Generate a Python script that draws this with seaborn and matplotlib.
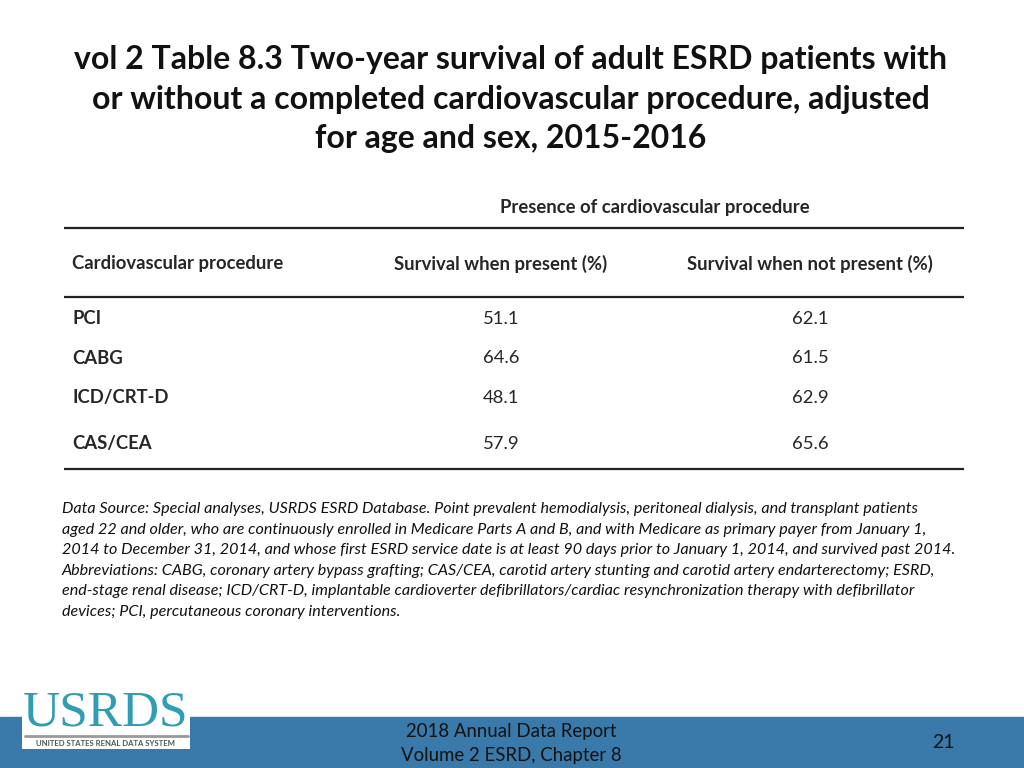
import numpy as np
import pandas as pd
import matplotlib.pyplot as plt
import seaborn as sns
from matplotlib.patches import Rectangle

# table data
procedures = ['PCI', 'CABG', 'ICD/CRT-D', 'CAS/CEA']
surv_present = [51.1, 64.6, 48.1, 57.9]
surv_not_present = [62.1, 61.5, 62.9, 65.6]
col_headers = ['Cardiovascular procedure', 'Survival when present (%)', 'Survival when not present (%)']
group_header = 'Presence of cardiovascular procedure'

title = ('vol 2 Table 8.3 Two-year survival of adult ESRD patients with\n'
         'or without a completed cardiovascular procedure, adjusted\n'
         'for age and sex, 2015-2016')
note = ('Data Source: Special analyses, USRDS ESRD Database. Point prevalent hemodialysis, peritoneal dialysis, and transplant patients\n'
        'aged 22 and older, who are continuously enrolled in Medicare Parts A and B, and with Medicare as primary payer from January 1,\n'
        '2014 to December 31, 2014, and whose first ESRD service date is at least 90 days prior to January 1, 2014, and survived past 2014.\n'
        'Abbreviations: CABG, coronary artery bypass grafting; CAS/CEA, carotid artery stunting and carotid artery endarterectomy; ESRD,\n'
        'end-stage renal disease; ICD/CRT-D, implantable cardioverter defibrillators/cardiac resynchronization therapy with defibrillator\n'
        'devices; PCI, percutaneous coronary interventions.')

df = pd.DataFrame({'procedure': procedures, 'present': surv_present, 'not_present': surv_not_present})

sns.set_style('white')
plt.rcParams['font.family'] = ['Lato', 'DejaVu Sans']

fig = plt.figure(figsize=(10.24, 7.68), dpi=100)
ax = fig.add_axes([0, 0, 1, 1])
ax.set_xlim(0, 1024)
ax.set_ylim(768, 0)
ax.axis('off')

# title
ax.text(511, 99, title, ha='center', va='center', fontsize=23, fontweight='bold',
        linespacing=1.42, color='#111111')

# table layout
row_y = [319, 358, 398, 444]
col_x = [72, 501, 810]
line_color = '#222222'
fs = 13.3

ax.text(655, 207, group_header, ha='center', va='center', fontsize=fs, fontweight='bold')
for y in [228, 297, 469]:
    ax.plot([64, 964], [y, y], color=line_color, lw=1.6, solid_capstyle='butt')

ax.text(col_x[0], 264, col_headers[0], ha='left', va='center', fontsize=fs, fontweight='bold')
ax.text(col_x[1], 264, col_headers[1], ha='center', va='center', fontsize=fs, fontweight='bold')
ax.text(col_x[2], 264, col_headers[2], ha='center', va='center', fontsize=fs, fontweight='bold')

for y, row in zip(row_y, df.itertuples()):
    ax.text(col_x[0], y, row.procedure, ha='left', va='center', fontsize=fs, fontweight='bold')
    ax.text(col_x[1], y, f'{row.present:.1f}', ha='center', va='center', fontsize=fs)
    ax.text(col_x[2], y, f'{row.not_present:.1f}', ha='center', va='center', fontsize=fs)

# footnote
ax.text(62, 502, note, ha='left', va='top', fontsize=11.6, style='italic',
        linespacing=1.6, color='#111111')

# footer band
ax.add_patch(Rectangle((0, 717), 1024, 51, color='#3a7aab', zorder=1))
ax.text(511, 731, '2018 Annual Data Report', ha='center', va='center', fontsize=13.4,
        color='#111111', zorder=3)
ax.text(511, 756, 'Volume 2 ESRD, Chapter 8', ha='center', va='center', fontsize=13.4,
        color='#111111', zorder=3)
ax.text(943, 742, '21', ha='center', va='center', fontsize=14, color='#111111', zorder=3)

# logo
ax.add_patch(Rectangle((22, 689), 168, 60, facecolor='white', edgecolor='none', zorder=2))
ax.text(106, 713, 'USRDS', ha='center', va='center', fontsize=37, family='Liberation Serif',
        color='#2f9db3', zorder=3)
ax.plot([25, 188], [736, 736], color='#999999', lw=2, zorder=3)
ax.text(106, 743, 'UNITED STATES RENAL DATA SYSTEM', ha='center', va='center', fontsize=5.6,
        color='#555555', fontweight='bold', zorder=3)

fig.savefig('out.png', dpi=100)
